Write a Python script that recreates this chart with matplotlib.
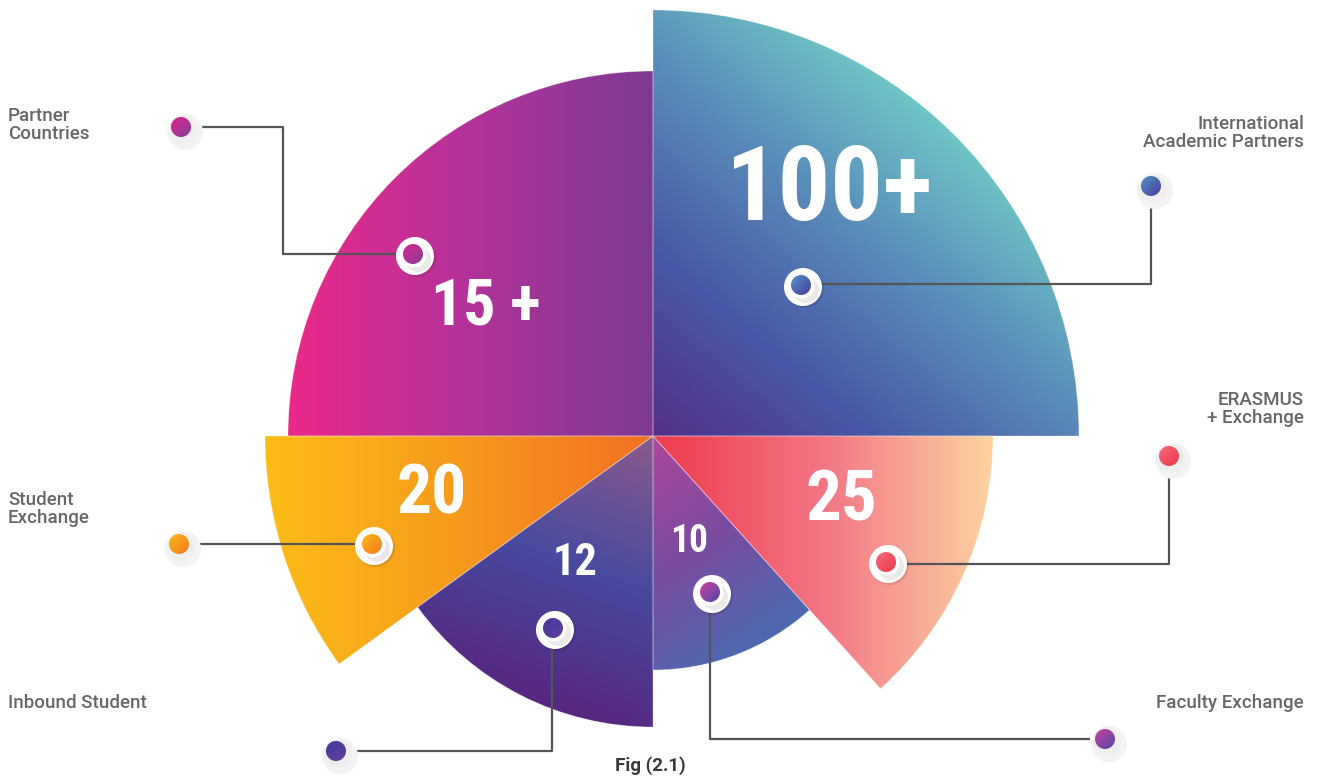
import os
import numpy as np
import matplotlib
matplotlib.use("Agg")
import matplotlib.pyplot as plt
from matplotlib import font_manager as fm
from matplotlib.patches import Wedge, Circle
from matplotlib.colors import LinearSegmentedColormap

# ---------------- data ----------------
categories = ["International\nAcademic Partners", "Partner\nCountries", "Student\nExchange",
              "Inbound Student", "Faculty Exchange", "ERASMUS\n+ Exchange"]
value_labels = ["100+", "15 +", "20", "12", "10", "25"]
angular_span = [90, 90, 36, 54, 42, 48]          # degrees, counter-clockwise from east
wedge_radius = [426, 365, 388, 291, 234, 340]    # relative extent of each petal

# gradient stops (colour list) and direction (screen deg) for each petal
grad_colors = [
    ["#54308a", "#4858a6", "#5a8cba", "#70c9c6"],
    ["#ea288a", "#b3339a", "#7c3a91"],
    ["#fcbd17", "#f79a1d", "#f26f22"],
    ["#8a5a8c", "#484a9f", "#572680"],
    ["#ad479c", "#7a4ca0", "#4b6ab1"],
    ["#ee3a4e", "#f37584", "#fdd3a2"],
]
grad_angle = [50, 0, 0, -110, -55, 0]


# ---------------- fonts ----------------
def pick_font(cands):
    files = {}
    for f in fm.fontManager.ttflist:
        b = os.path.splitext(os.path.basename(f.fname))[0].lower().replace("-", "").replace("_", "")
        files.setdefault(b, f.fname)
    for c in cands:
        if c in files:
            return files[c]
    return None


cond_path = pick_font(["notosansextracondensedbold", "notosansextracondensedsemibold",
                       "robotocondensedbold", "notosanscondensedbold",
                       "opensanscondensedbold", "liberationsansnarrowbold",
                       "dejavusanscondensedbold"])


def num_props(size):
    if cond_path:
        return fm.FontProperties(fname=cond_path, size=size)
    return fm.FontProperties(family="DejaVu Sans", weight="bold", size=size)


def pick_medium():
    wmap = {"medium": 500, "semibold": 600, "demibold": 600, "normal": 400, "regular": 400,
            "bold": 700}
    for fam in ["Roboto", "Inter", "Open Sans", "Noto Sans", "Lato"]:
        for f in fm.fontManager.ttflist:
            w = f.weight if isinstance(f.weight, int) else wmap.get(str(f.weight), 400)
            if f.name == fam and f.style == "normal" and w == 500 and f.stretch == "normal":
                return fam, 500
    return "Noto Sans", "normal"


lab_family, lab_weight = pick_medium()

W, H = 1317, 779
fig = plt.figure(figsize=(W / 100, H / 100), dpi=100)
ax = fig.add_axes([0, 0, 1, 1])
ax.set_xlim(0, W)
ax.set_ylim(H, 0)
ax.axis("off")

cx, cy = 653, 436


def gradient_fill(patch, colors, angle_deg, zorder=2):
    verts = patch.get_path().vertices
    verts = patch.get_patch_transform().transform(verts)
    x0, y0 = verts.min(axis=0)
    x1, y1 = verts.max(axis=0)
    a = np.deg2rad(angle_deg)
    d = np.array([np.cos(a), -np.sin(a)])  # screen direction (y down)
    proj = verts @ d
    pmin, pmax = proj.min(), proj.max()
    nx = max(int(x1 - x0) + 2, 4)
    ny = max(int(y1 - y0) + 2, 4)
    X, Y = np.meshgrid(np.linspace(x0, x1, nx), np.linspace(y0, y1, ny))
    T = ((X * d[0] + Y * d[1]) - pmin) / (pmax - pmin)
    cmap = LinearSegmentedColormap.from_list("g", colors)
    im = ax.imshow(T, cmap=cmap, vmin=0, vmax=1, extent=(x0, x1, y0, y1),
                   origin="lower", interpolation="bilinear", zorder=zorder, aspect="auto")
    patch.set_transform(ax.transData)
    im.set_clip_path(patch)
    return im


# ---------------- petals ----------------
start = 0
for i, span in enumerate(angular_span):
    a1, a2 = start, start + span
    w = Wedge((cx, cy), wedge_radius[i], -a2, -a1)
    gradient_fill(w, grad_colors[i], grad_angle[i], zorder=2)
    edge = Wedge((cx, cy), wedge_radius[i], -a2, -a1, facecolor="none",
                 edgecolor=(1, 1, 1, 0.35), linewidth=0.6, zorder=3)
    ax.add_patch(edge)
    start = a2

ax.set_xlim(0, W)
ax.set_ylim(H, 0)

# ---------------- value labels ----------------
val_pos = [(830, 191), (486, 307), (432, 495), (575, 563), (689, 542), (842, 501)]
val_size = [75, 46, 50, 32, 27, 51]
for lab, (x, y), s in zip(value_labels, val_pos, val_size):
    ax.text(x, y, lab, color="white", fontproperties=num_props(s),
            ha="center", va="center", zorder=6)

# ---------------- connectors & markers ----------------
line_color = "#555555"
paths = [
    [(1151, 200), (1151, 284), (815, 284)],
    [(196, 127), (283, 127), (283, 254), (405, 254)],
    [(196, 544), (365, 544)],
    [(352, 751), (552, 751), (552, 640)],
    [(1090, 739), (710, 739), (710, 604)],
    [(1169, 470), (1169, 564), (895, 564)],
]
inner = [(803, 287), (415, 256), (374, 546), (555, 630), (712, 594), (888, 564)]
outer = [(1151, 186), (181, 127), (179, 544), (336, 751), (1105, 739), (1169, 456)]
dot_colors = [
    ["#5186c0", "#4a4aa2"],
    ["#d02a8e", "#933a98"],
    ["#fcae19", "#f3821f"],
    ["#4b3a9a", "#5c3f9e"],
    ["#b8419f", "#6248a8"],
    ["#f26574", "#ec3f51"],
]

for i in range(6):
    p = np.array(paths[i])
    ax.plot(p[:, 0], p[:, 1], color=line_color, lw=1.6, zorder=4, solid_capstyle="butt")

    # outer dot with soft halo
    ox, oy = outer[i]
    ax.add_patch(Circle((ox + 4, oy + 5), 18, facecolor="#f3f3f3", edgecolor="none", zorder=4))
    ax.add_patch(Circle((ox + 2, oy + 3), 14, facecolor="#ececec", edgecolor="none", zorder=4, alpha=0.5))
    c = Circle((ox, oy), 10)
    gradient_fill(c, dot_colors[i], -45, zorder=5)

    # inner ring marker
    ix, iy = inner[i]
    ax.add_patch(Circle((ix + 1.5, iy + 1.5), 19.5, facecolor=(0, 0, 0, 0.10), edgecolor="none", zorder=6))
    ax.add_patch(Circle((ix, iy), 19, facecolor="white", edgecolor="none", zorder=6))
    ax.add_patch(Circle((ix + 3, iy + 3), 13, facecolor="#e9e9e9", edgecolor="none", zorder=6))
    ax.add_patch(Circle((ix - 1, iy - 1), 12.5, facecolor="white", edgecolor="none", zorder=6))
    c2 = Circle((ix - 2, iy - 2), 10)
    gradient_fill(c2, dot_colors[i], -45, zorder=7)

# ---------------- category labels ----------------
lab_font = [lab_family, "DejaVu Sans"]
lab_color = "#676767"
lab_spec = [
    (1304, 133, "right"),
    (8, 125, "left"),
    (8, 509, "left"),
    (8, 703, "left"),
    (1304, 703, "right"),
    (1304, 409, "right"),
]
for txt, (x, y, ha) in zip(categories, lab_spec):
    ax.text(x, y, txt, color=lab_color, fontsize=13.5, fontweight=lab_weight, family=lab_font,
            ha=ha, va="center", linespacing=0.98, zorder=8)

ax.text(650, 766, "Fig (2.1)", color="#3a3a3a", fontsize=13.5, fontweight="bold",
        family=lab_font, ha="center", va="center", zorder=8)

ax.set_xlim(0, W)
ax.set_ylim(H, 0)
fig.savefig("out.png", dpi=100, facecolor="white")
